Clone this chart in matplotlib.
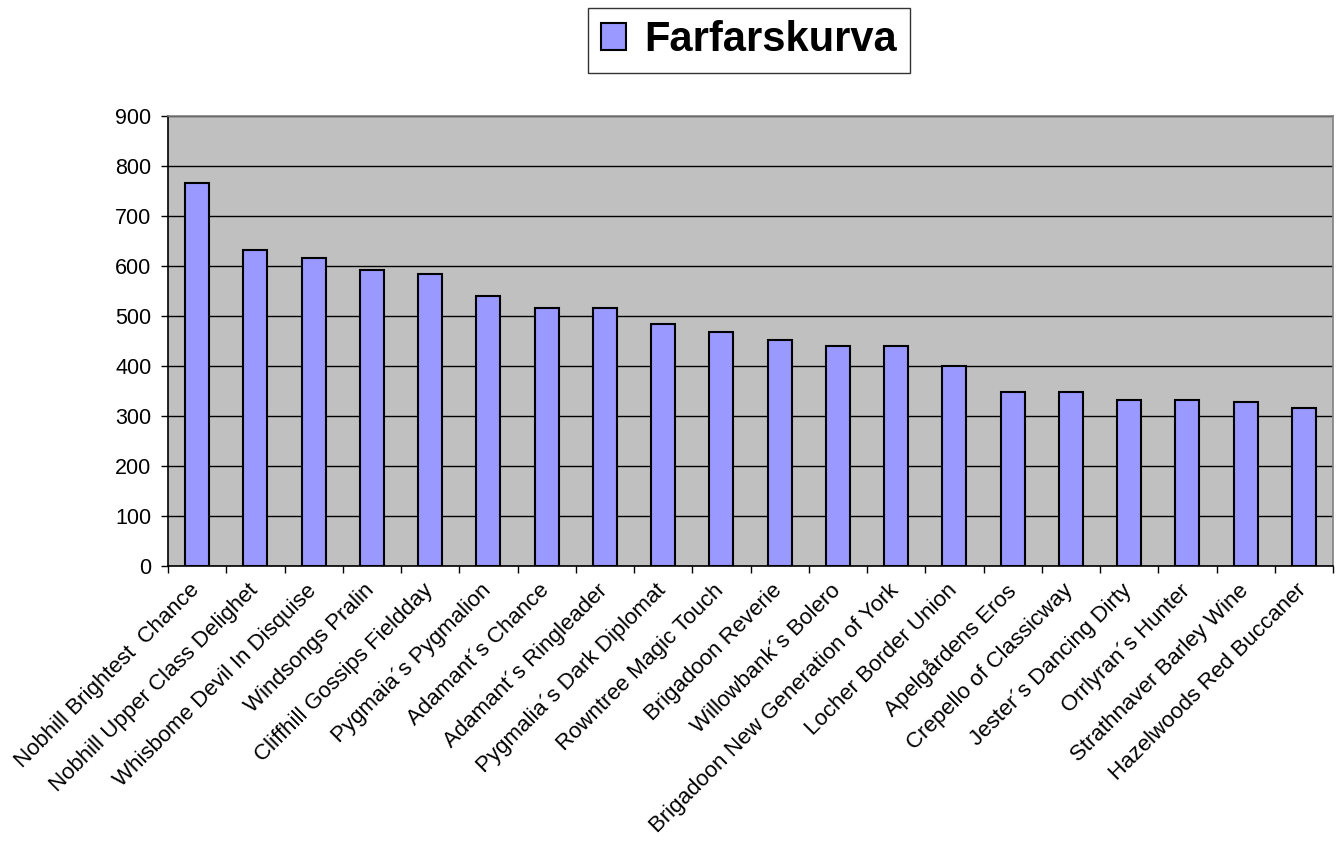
import numpy as np
import matplotlib
matplotlib.use("Agg")
import matplotlib.pyplot as plt
import matplotlib.transforms as mtransforms
from matplotlib.ticker import FixedLocator, NullFormatter

# data
dogs = [
    "Nobhill Brightest  Chance",
    "Nobhill Upper Class Delighet",
    "Whisbome Devil In Disquise",
    "Windsongs Pralin",
    "Cliffhill Gossips Fieldday",
    "Pygmaia´s Pygmalion",
    "Adamant´s Chance",
    "Adamant´s Ringleader",
    "Pygmalia´s Dark Diplomat",
    "Rowntree Magic Touch",
    "Brigadoon Reverie",
    "Willowbank´s Bolero",
    "Brigadoon New Generation of York",
    "Locher Border Union",
    "Apelgårdens Eros",
    "Crepello of Classicway",
    "Jester´s Dancing Dirty",
    "Orrlyran´s Hunter",
    "Strathnaver Barley Wine",
    "Hazelwoods Red Buccaner",
]
farfar = [766, 632, 616, 592, 584, 540, 516, 516, 484, 468,
          452, 440, 440, 400, 348, 348, 332, 332, 328, 316]
yticks = [0, 100, 200, 300, 400, 500, 600, 700, 800, 900]

plt.rcParams['font.family'] = ['Liberation Sans', 'DejaVu Sans']

fig = plt.figure(figsize=(13.41, 8.44), dpi=100)
ax = fig.add_axes([168 / 1341, 1 - 566 / 844, (1333 - 168) / 1341, 450 / 844])
ax.set_facecolor('#C0C0C0')

x = np.arange(len(dogs))
bars = ax.bar(x, farfar, width=0.41, color='#9999FF', edgecolor='black',
              linewidth=1.5, zorder=3, label='Farfarskurva')

ax.set_xlim(-0.5, len(dogs) - 0.5)
ax.set_ylim(0, 900)
ax.set_yticks(yticks)
ax.yaxis.grid(True, color='black', linewidth=1, zorder=1)
ax.set_axisbelow(True)

# category labels on major ticks (no mark), tick marks between categories
ax.set_xticks(x)
ax.set_xticklabels(dogs, rotation=45, ha='right', va='top',
                   rotation_mode='anchor', fontsize=16)
ax.tick_params(axis='x', which='major', length=0, pad=10)
shift = mtransforms.ScaledTranslation(-8 / 100, 0, fig.dpi_scale_trans)
for lbl in ax.get_xticklabels():
    lbl.set_transform(lbl.get_transform() + shift)
ax.xaxis.set_minor_locator(FixedLocator(np.arange(-0.5, len(dogs), 1.0)))
ax.xaxis.set_minor_formatter(NullFormatter())
ax.tick_params(axis='x', which='minor', length=5, width=1, color='black', direction='out')
ax.tick_params(axis='y', length=5, width=1, direction='out', labelsize=15.5, pad=7)

for side in ['left', 'bottom']:
    ax.spines[side].set_color('black')
    ax.spines[side].set_linewidth(1.2)
for side in ['top', 'right']:
    ax.spines[side].set_color('#808080')
    ax.spines[side].set_linewidth(1.2)

leg = fig.legend(handles=[bars], labels=['Farfarskurva'], loc='center',
                 bbox_to_anchor=(749 / 1341, 1 - 40 / 844),
                 prop={'size': 30, 'weight': 'bold'}, frameon=True, fancybox=False,
                 edgecolor='black', handlelength=0.6, handleheight=0.6,
                 handletextpad=0.45, borderpad=0.3, borderaxespad=0)
leg.get_frame().set_linewidth(1)

fig.savefig('out.png', dpi=100)
